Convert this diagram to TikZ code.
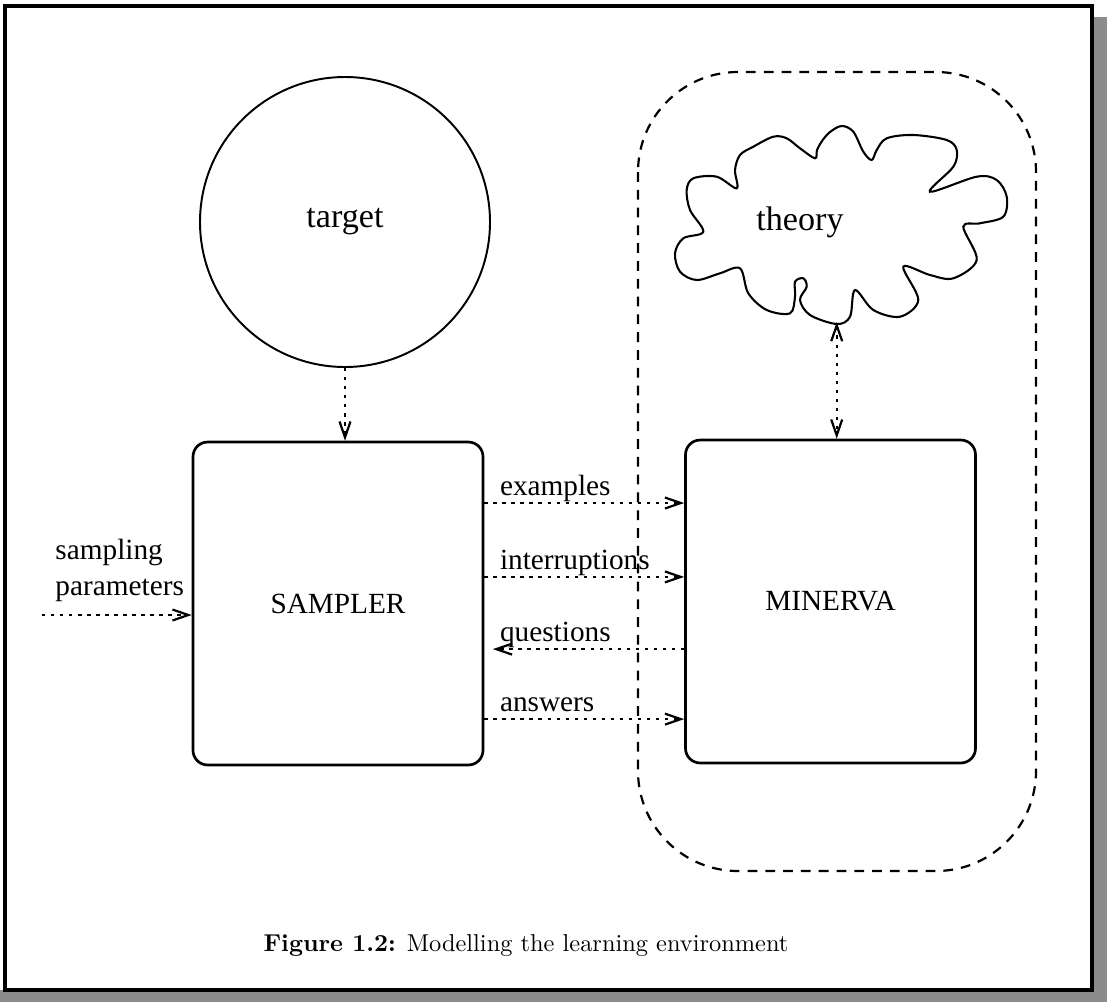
\documentclass[tikz,border=0pt]{standalone}
\usepackage{fontspec}
\usetikzlibrary{arrows.meta,positioning,calc}
\newfontfamily\tmsfont{Liberation Serif}

\begin{document}
\begin{tikzpicture}[x=0.41pt, y=-0.41pt,
    >={Straight Barb[length=6.5pt,width=4.5pt]},
    box/.style={draw, line width=1.1pt, rounded corners=6pt, minimum width=118.9pt, minimum height=132.4pt, font=\tmsfont\fontsize{12}{14}\selectfont},
    flow/.style={line width=0.9pt, dash pattern=on 1.4pt off 2.3pt},
    lbl/.style={anchor=base west, inner sep=0pt, xshift=6pt, yshift=3pt, font=\tmsfont\fontsize{12}{14}\selectfont},
    big/.style={font=\tmsfont\fontsize{14}{17}\selectfont}
]
\useasboundingbox (0,0) rectangle (1111,1002);

% frame with shadow
\fill[black!45] (1092,17) rectangle (1107,1002);
\fill[black!45] (0,990) rectangle (1107,1002);
\draw[line width=1.3pt, fill=white] (5,6) rectangle (1092,990);

% the learner region
\draw[line width=0.9pt, dash pattern=on 4pt off 3.3pt, rounded corners=41pt] (638,72) rectangle (1036,871);

% target and boxes
\node[circle, draw, line width=0.8pt, minimum size=118.9pt, inner sep=0pt, big] (target) at (345,222) {\raisebox{2.5pt}{target}};
\node[box] (sampler) at (338,603.5) {\raisebox{-4pt}{SAMPLER}};
\node[box] (minerva) at (830.5,601.5) {\raisebox{-5pt}{MINERVA}};

% theory cloud
\draw[line width=0.85pt] plot[smooth cycle, tension=0.55] coordinates {
  (736.7,188.3) (716.7,176.7) (693.3,178.3) (686.7,190) (690,210) (703.3,231.7)
  (683.3,238.3) (675,253.3) (680,271.7) (696.7,280) (720,273.3) (740,268.3)
  (748.3,293.3) (766.7,310) (790,313.3) (795,296.7) (795,281.7) (803.3,278.3)
  (806.7,286.7) (800,300) (810,315) (836.7,324) (850,316.7) (855,290)
  (873.3,310) (900,316.7) (918.3,300) (903.3,266.7) (930,275) (953.3,278.3)
  (976.7,260) (963.3,226.7) (980,223.3) (1003.3,216.7) (1006.7,196.7) (996.7,180)
  (976.7,176.7) (930,191.7) (953.3,166.7) (956.7,150) (946.7,140) (913.3,135)
  (886.7,138.3) (876.7,150) (871.7,160) (863.3,151.7) (853.3,131.7) (841.7,126)
  (830,132) (822,141) (817,150) (815,158.3) (800,148.3)
  (786.7,138.3) (773.3,136.7) (753.3,146.7) (740,155) (735,170)};
\node[big] (theory) at (800,222) {theory};
\coordinate (cloudtip) at (836.7,322);

% connectors
\draw[flow, ->] (target) -- (target |- sampler.north);
\draw[flow, <->] (cloudtip) -- (cloudtip |- minerva.north);

\draw[flow, ->] ([yshift=41.2pt]sampler.east) -- node[pos=0, lbl] {examples} ([yshift=41.2pt]sampler.east -| minerva.west);
\draw[flow, ->] ([yshift=10.9pt]sampler.east) -- node[pos=0, lbl] {interruptions} ([yshift=10.9pt]sampler.east -| minerva.west);
\draw[flow, ->, shorten >=3.5pt] ([yshift=-18.7pt]sampler.east -| minerva.west) -- node[pos=1, lbl] {questions} ([yshift=-18.7pt]sampler.east);
\draw[flow, ->] ([yshift=-47.4pt]sampler.east) -- node[pos=0, lbl] {answers} ([yshift=-47.4pt]sampler.east -| minerva.west);

% sampling parameters
\node[align=left, anchor=west, inner sep=0pt, font=\tmsfont\fontsize{12}{14.8}\selectfont] (params) at (55,570) {sampling\\parameters};
\coordinate (paramin) at (42,615);
\draw[flow, ->] (paramin) -- (paramin -| sampler.west);

% caption
\node[font=\normalsize] (caption) at (526,946) {\textbf{Figure 1.2:} Modelling the learning environment};

\end{tikzpicture}
\end{document}
